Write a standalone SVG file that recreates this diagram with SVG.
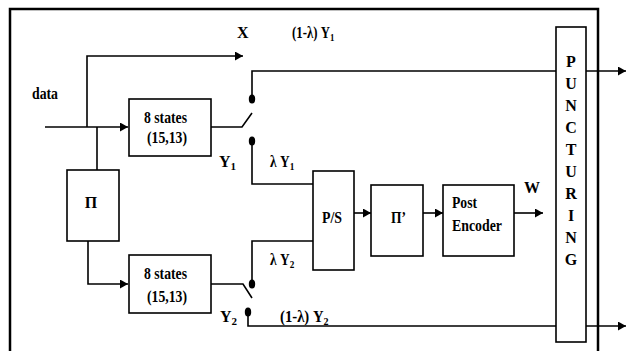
<svg xmlns="http://www.w3.org/2000/svg" width="626" height="351" viewBox="0 0 626 351">
<style>
.box{fill:#fff;stroke:#000;stroke-width:1.6}
.ln{fill:none;stroke:#000;stroke-width:1.6}
.t{font-family:"Liberation Serif","Times New Roman",serif;font-weight:bold;font-size:16px;fill:#000}
.c{text-anchor:middle}
.dot{fill:#000}
.sub{font-size:11px}
</style>
<defs>
<marker id="ar" markerUnits="userSpaceOnUse" markerWidth="10" markerHeight="10" refX="8" refY="4.5" orient="auto">
<path d="M0,0 L8,4.5 L0,9 Z" fill="#000"/>
</marker>
</defs>
<rect x="10" y="9" width="588" height="370" fill="none" stroke="#000" stroke-width="2.5"/>
<g id="connectors">
<path class="ln" d="M45,127 H128" marker-end="url(#ar)"/>
<path class="ln" d="M87,127 V56 H243" marker-end="url(#ar)"/>
<path class="ln" d="M97,127 V170"/>
<path class="ln" d="M88,241 V284 H128" marker-end="url(#ar)"/>
<path class="ln" d="M211,127 H242 L252,113"/>
<path class="ln" d="M252,99 V71 H556"/>
<path class="ln" d="M252,141 V184 H313"/>
<path class="ln" d="M211,284 H243 L252,298"/>
<path class="ln" d="M252,284 V241 H313"/>
<path class="ln" d="M248,312 V326 H556"/>
<path class="ln" d="M586,71 H626" marker-end="url(#ar)"/>
<path class="ln" d="M586,326 H626" marker-end="url(#ar)"/>
<path class="ln" d="M354,213 H371" stroke-width="3.2" marker-end="url(#ar)"/>
<path class="ln" d="M423,213 H443" marker-end="url(#ar)"/>
<path class="ln" d="M514,213 H543" marker-end="url(#ar)"/>
<ellipse class="dot" cx="252" cy="99" rx="3.2" ry="4.5"/>
<ellipse class="dot" cx="252" cy="141" rx="3.2" ry="4.5"/>
<ellipse class="dot" cx="252" cy="284" rx="3.2" ry="4.5"/>
<ellipse class="dot" cx="248" cy="312" rx="3.2" ry="4.5"/>
</g>
<g id="labels">
<text class="t" x="32" y="99" textLength="26" lengthAdjust="spacingAndGlyphs">data</text>
<text class="t" x="237" y="38">X</text>
<text class="t" transform="translate(292,38) scale(0.8,1)" x="0" y="0" font-size="15">(1-λ) Y<tspan class="sub" dy="3">1</tspan></text>
<text class="t" x="219" y="167">Y<tspan class="sub" dy="3">1</tspan></text>
<text class="t" transform="translate(270,167) scale(0.84,1)" x="0" y="0">λ Y<tspan class="sub" dy="3">1</tspan></text>
<text class="t" transform="translate(270,265) scale(0.84,1)" x="0" y="0">λ Y<tspan class="sub" dy="3">2</tspan></text>
<text class="t" x="220" y="322">Y<tspan class="sub" dy="3">2</tspan></text>
<text class="t" transform="translate(280,322) scale(0.92,1)" x="0" y="0" font-size="15">(1-λ) Y<tspan class="sub" dy="3">2</tspan></text>
<text class="t" x="524" y="193">W</text>
</g>
<g id="enc1">
<rect class="box" x="129" y="99" width="82" height="57"/>
<text class="t" x="144" y="123" font-size="17" textLength="43" lengthAdjust="spacingAndGlyphs">8 states</text>
<text class="t" x="147" y="143" font-size="17" textLength="40" lengthAdjust="spacingAndGlyphs">(15,13)</text>
</g>
<g id="pi">
<rect class="box" x="67" y="170" width="52" height="71"/>
<text class="t c" x="91" y="208" font-size="17">Π</text>
</g>
<g id="enc2">
<rect class="box" x="129" y="255" width="82" height="58"/>
<text class="t" x="144" y="279" font-size="17" textLength="43" lengthAdjust="spacingAndGlyphs">8 states</text>
<text class="t" x="147" y="302" font-size="17" textLength="40" lengthAdjust="spacingAndGlyphs">(15,13)</text>
</g>
<g id="ps">
<rect class="box" x="313" y="171" width="41" height="99"/>
<text class="t" x="322" y="223" font-size="17" textLength="20" lengthAdjust="spacingAndGlyphs">P/S</text>
</g>
<g id="pi2">
<rect class="box" x="371" y="185" width="52" height="71"/>
<text class="t" x="391" y="223" font-size="17" textLength="15" lengthAdjust="spacingAndGlyphs">Π’</text>
</g>
<g id="post">
<rect class="box" x="443" y="185" width="71" height="71"/>
<text class="t" x="452" y="208" font-size="17" textLength="25" lengthAdjust="spacingAndGlyphs">Post</text>
<text class="t" x="452" y="231" font-size="17" textLength="50" lengthAdjust="spacingAndGlyphs">Encoder</text>
</g>
<g id="punct">
<rect class="box" x="556" y="27" width="30" height="315"/>
<text class="t c" x="571" y="67">P</text>
<text class="t c" x="571" y="89">U</text>
<text class="t c" x="571" y="111">N</text>
<text class="t c" x="571" y="133">C</text>
<text class="t c" x="571" y="155">T</text>
<text class="t c" x="571" y="177">U</text>
<text class="t c" x="571" y="199">R</text>
<text class="t c" x="571" y="221">I</text>
<text class="t c" x="571" y="243">N</text>
<text class="t c" x="571" y="265">G</text>
</g>
</svg>
